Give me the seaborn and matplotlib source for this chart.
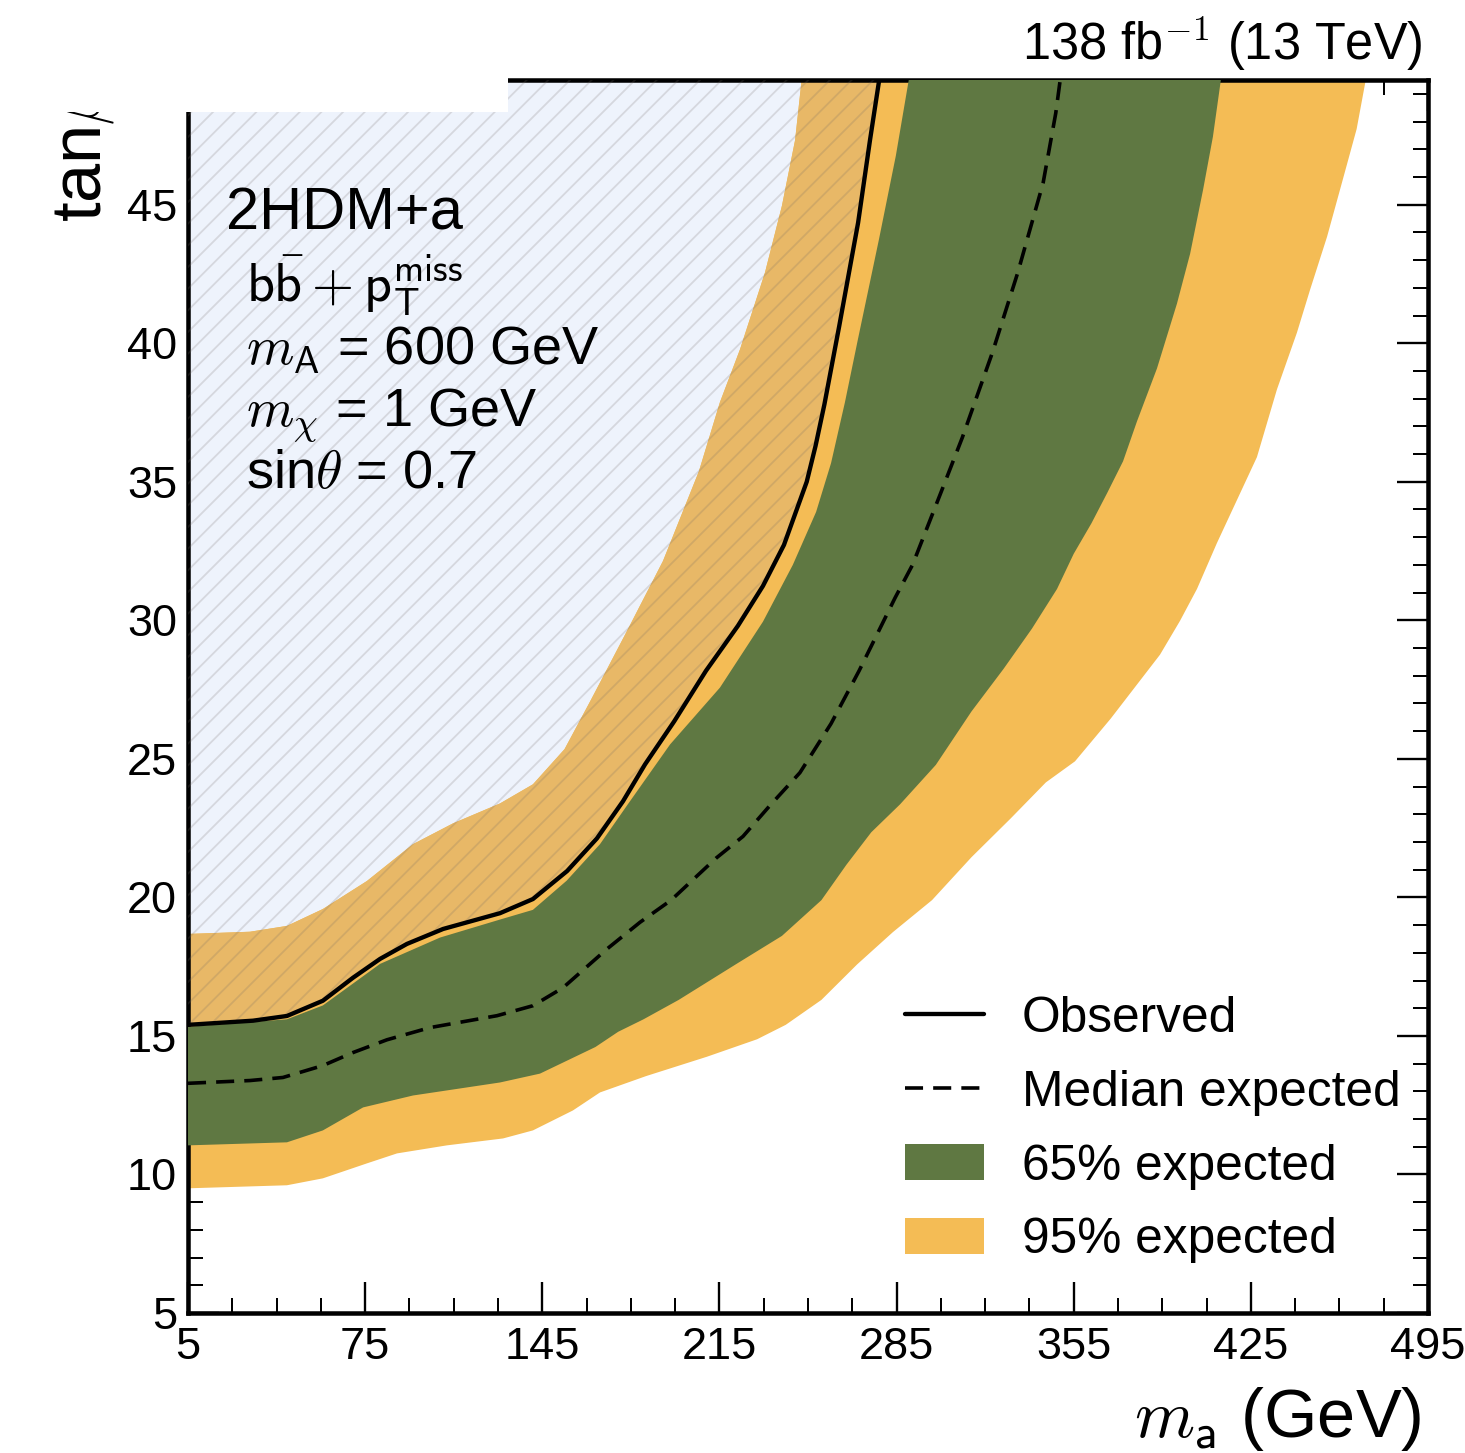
import matplotlib
matplotlib.use("Agg")
import matplotlib.pyplot as plt
from matplotlib.patches import Patch, Rectangle
import seaborn as sns
import numpy as np
import pandas as pd

# exclusion contours (m_a in GeV, tan beta)
obs_x = [5, 30.7, 44.1, 58.3, 70.2, 80.9, 91.5, 105.8, 128.3, 141.3, 154.8, 166.6, 176.9,
         185.6, 197.1, 209.7, 222.3, 232.2, 240.5, 249.5, 253.0, 256.5, 262.3, 269.8, 274.5, 278.3]
obs_y = [15.4, 15.55, 15.72, 16.27, 17.1, 17.78, 18.32, 18.86, 19.43, 19.94, 20.95, 22.13, 23.47,
         24.8, 26.35, 28.18, 29.8, 31.24, 32.72, 35.0, 36.3, 37.8, 40.6, 44.35, 47.33, 49.6]

exp_x = [5, 29.5, 42.5, 58.3, 70.2, 83.6, 100.6, 127.1, 141.3, 153.2, 170.6, 183.6, 195.9, 213.6,
         224.3, 235.0, 246.8, 259.1, 270.2, 284.4, 291.3, 302.6, 311.0, 322.9, 332.9, 342.9, 347.9, 349.8]
exp_y = [13.29, 13.39, 13.5, 13.93, 14.4, 14.86, 15.3, 15.73, 16.09, 16.74, 18.14, 19.1, 19.9, 21.41,
         22.2, 23.32, 24.5, 26.27, 28.18, 30.81, 32.0, 34.63, 36.6, 39.67, 42.55, 45.78, 48.3, 49.6]

# 65% band: upper-left edge and lower-right edge
g_up_x = [5, 44.1, 58.3, 80.9, 104.6, 128.3, 141.3, 154.6, 167.8, 178.5, 195.5, 215.2, 232.2, 244.0,
          253.2, 259.1, 264.6, 269.7, 278.0, 284.7, 290.0]
g_up_y = [15.33, 15.6, 16.1, 17.6, 18.55, 19.2, 19.55, 20.6, 21.92, 23.32, 25.52, 27.57, 29.95, 32.0,
          33.91, 35.67, 37.87, 40.13, 43.73, 46.76, 49.6]
g_dn_x = [5, 44.1, 58.3, 74.2, 93.9, 128.3, 144.1, 166.0, 175.0, 185.0, 198.9, 221.4, 239.7, 255.3,
          265.2, 275.0, 286.4, 300.5, 314.6, 327.3, 338.5, 348.4, 355.0, 362.0, 368.2, 374.5, 380.0,
          387.9, 395.8, 401.0, 406.1, 410.0, 413.3]
g_dn_y = [11.05, 11.16, 11.59, 12.42, 12.85, 13.32, 13.64, 14.6, 15.15, 15.6, 16.3, 17.58, 18.61, 19.9,
          21.18, 22.35, 23.36, 24.78, 26.71, 28.25, 29.7, 31.13, 32.4, 33.5, 34.59, 35.74, 37.18,
          39.09, 41.43, 43.23, 45.53, 47.45, 49.6]

# 95% band
o_up_x = [5, 29.5, 44.1, 58.3, 75.7, 93.9, 109.7, 128.3, 141.3, 153.8, 164.3, 178.5, 192.7, 206.9,
          215.2, 223.1, 233.0, 239.7, 244.9, 247.6]
o_up_y = [18.68, 18.76, 18.97, 19.58, 20.59, 21.92, 22.67, 23.39, 24.08, 25.35, 27.14, 29.62, 32.14,
          35.38, 37.87, 39.77, 42.55, 44.96, 47.33, 49.6]
o_dn_x = [5, 44.1, 58.3, 75.7, 87.6, 107.3, 129.5, 141.3, 157.1, 167.8, 186.0, 210.1, 229.9, 241.2,
          255.3, 269.4, 283.6, 299.0, 314.6, 330.1, 344.0, 355.5, 369.6, 389.1, 397.0, 403.7, 411.6,
          419.5, 427.4, 435.3, 443.2, 448.4, 455.1, 461.4, 466.8, 470.6]
o_dn_y = [9.5, 9.61, 9.86, 10.4, 10.76, 11.05, 11.3, 11.59, 12.31, 12.96, 13.55, 14.25, 14.88, 15.4,
          16.3, 17.58, 18.75, 19.9, 21.45, 22.85, 24.15, 24.91, 26.45, 28.76, 29.98, 31.13, 32.79,
          34.34, 35.89, 38.33, 40.38, 41.93, 43.84, 45.93, 47.73, 49.6]

x_ticks = [5, 75, 145, 215, 285, 355, 425, 495]
y_ticks = [5, 10, 15, 20, 25, 30, 35, 40, 45]
legend_labels = ["Observed", "Median expected", "65% expected", "95% expected"]
info_lines = [r"$\mathsf{b\bar{b}} + \mathsf{p}_{\mathsf{T}}^{\mathsf{miss}}$",
              r"$m_{\mathsf{A}}$ = 600 GeV",
              r"$m_{\chi}$ = 1 GeV",
              r"sin$\theta$ = 0.7"]

ORANGE = "#F4BC55"
GREEN = "#5F7842"
EXCL = "#EEF3FC"
ORANGE_EXCL = "#E8B867"

sns.set_theme(style="ticks", rc={"axes.edgecolor": "black", "xtick.color": "black",
                                 "ytick.color": "black", "text.color": "black",
                                 "axes.labelcolor": "black"})
plt.rcParams["font.family"] = ["Liberation Sans", "DejaVu Sans"]
plt.rcParams["mathtext.fontset"] = "cm"
plt.rcParams["hatch.linewidth"] = 1.0

DPI = 130
W, H = 1465, 1453
fig = plt.figure(figsize=(W / DPI, H / DPI), dpi=DPI)
ax = fig.add_axes([188 / W, 1 - 1313 / H, 1240 / W, 1233 / H])

top = 49.6
# excluded region (left of observed), light fill below the bands
excl_x = obs_x + [5]
excl_y = obs_y + [top]
ax.fill(excl_x, excl_y, color=EXCL, lw=0, zorder=1)

# 95% band
ax.fill(o_up_x + o_dn_x[::-1], o_up_y + o_dn_y[::-1], color=ORANGE, lw=0, zorder=2)
# part of the 95% band inside the excluded region
ax.fill(o_up_x + obs_x[::-1], o_up_y + obs_y[::-1], color=ORANGE_EXCL, lw=0, zorder=2.5)
# 65% band
ax.fill(g_up_x + g_dn_x[::-1], g_up_y + g_dn_y[::-1], color=GREEN, lw=0, zorder=3)
# hatch over the excluded region
ax.fill(excl_x, excl_y, facecolor="none", edgecolor=(0.45, 0.42, 0.40, 0.2), lw=0,
        hatch="//", zorder=3.5)

obs_df = pd.DataFrame({"m_a": obs_x, "tanb": obs_y})
exp_df = pd.DataFrame({"m_a": exp_x, "tanb": exp_y})
sns.lineplot(data=exp_df, x="m_a", y="tanb", sort=False, estimator=None, color="black",
             lw=2.0, dashes=(5, 2.8), ax=ax, zorder=4)
sns.lineplot(data=obs_df, x="m_a", y="tanb", sort=False, estimator=None, color="black",
             lw=2.4, ax=ax, zorder=4.5)
exp_line, obs_line = ax.lines[0], ax.lines[1]

ax.set_xlim(5, 495)
ax.set_ylim(5, 49.5)
ax.set_xticks(x_ticks)
ax.set_xticks(np.arange(5, 496, 17.5), minor=True)
ax.set_yticks(y_ticks)
ax.set_yticks(np.arange(5, 50, 1), minor=True)
ax.tick_params(which="both", direction="in", top=True, right=True, labelsize=25)
ax.tick_params(which="major", length=17, width=1.3)
ax.tick_params(which="minor", length=8.3, width=1.1)
ax.tick_params(axis="x", pad=8)
ax.tick_params(axis="y", pad=6)
for s in ax.spines.values():
    s.set_visible(True)
    s.set_linewidth(2.5)
    s.set_color("black")

ax.set_xlabel(r"$m_{\mathsf{a}}$ (GeV)", fontsize=38, ha="right", va="baseline")
ax.xaxis.set_label_coords((1422 - 188) / 1240, (1313 - 1437) / 1233)
ax.set_ylabel(r"tan$\beta$", fontsize=39, ha="left", va="baseline")
ax.yaxis.set_label_coords((101 - 188) / 1240, (1313 - 222) / 1233)

ax.text((1422 - 188) / 1240, (1313 - 60) / 1233, r"138 fb$^{-\mathsf{1}}$ (13 TeV)",
        transform=ax.transAxes, ha="right", va="baseline", fontsize=28)
ax.text((226 - 188) / 1240, (1313 - 230) / 1233, "2HDM+a", transform=ax.transAxes,
        ha="left", va="baseline", fontsize=33, zorder=6)
for txt, py in zip(info_lines, [302, 365, 425, 488]):
    ax.text((246 - 188) / 1240, (1313 - py) / 1233, txt, transform=ax.transAxes,
            ha="left", va="baseline", fontsize=30, zorder=6)

handles = [obs_line, exp_line,
           Patch(facecolor=GREEN, edgecolor="none"),
           Patch(facecolor=ORANGE, edgecolor="none")]
ax.legend(handles, legend_labels, loc="upper left", bbox_to_anchor=((905 - 188) / 1240, (1313 - 996) / 1233),
          frameon=False, fontsize=27.5, handlelength=1.6, handleheight=0.75,
          handletextpad=0.75, labelspacing=0.56, borderpad=0, borderaxespad=0)

# blank patch over the upper-left corner, as in the original
fig.add_artist(Rectangle((0, 1 - 112 / H), 508 / W, 112 / H, transform=fig.transFigure,
                         facecolor="white", edgecolor="none", zorder=10))

fig.savefig("out.png", dpi=DPI)
